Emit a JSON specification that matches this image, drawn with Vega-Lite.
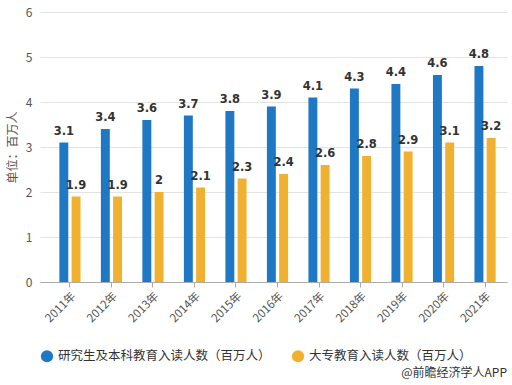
{
  "$schema": "https://vega.github.io/schema/vega-lite/v6.json",
  "autosize": {"type": "none"},
  "width": 467,
  "height": 270,
  "padding": {"left": 40, "top": 12, "right": 5, "bottom": 103},
  "background": "white",
  "config": {
    "font": "Noto Sans CJK SC",
    "view": {"stroke": null}
  },
  "title": {
    "text": "@前瞻经济学人APP",
    "orient": "bottom",
    "anchor": "end",
    "fontSize": 12,
    "fontWeight": "normal",
    "color": "#333333",
    "offset": 5
  },
  "data": {
    "values": [
      {"year": "2011年", "series": "研究生及本科教育入读人数（百万人）", "value": 3.1},
      {"year": "2012年", "series": "研究生及本科教育入读人数（百万人）", "value": 3.4},
      {"year": "2013年", "series": "研究生及本科教育入读人数（百万人）", "value": 3.6},
      {"year": "2014年", "series": "研究生及本科教育入读人数（百万人）", "value": 3.7},
      {"year": "2015年", "series": "研究生及本科教育入读人数（百万人）", "value": 3.8},
      {"year": "2016年", "series": "研究生及本科教育入读人数（百万人）", "value": 3.9},
      {"year": "2017年", "series": "研究生及本科教育入读人数（百万人）", "value": 4.1},
      {"year": "2018年", "series": "研究生及本科教育入读人数（百万人）", "value": 4.3},
      {"year": "2019年", "series": "研究生及本科教育入读人数（百万人）", "value": 4.4},
      {"year": "2020年", "series": "研究生及本科教育入读人数（百万人）", "value": 4.6},
      {"year": "2021年", "series": "研究生及本科教育入读人数（百万人）", "value": 4.8},
      {"year": "2011年", "series": "大专教育入读人数（百万人）", "value": 1.9},
      {"year": "2012年", "series": "大专教育入读人数（百万人）", "value": 1.9},
      {"year": "2013年", "series": "大专教育入读人数（百万人）", "value": 2},
      {"year": "2014年", "series": "大专教育入读人数（百万人）", "value": 2.1},
      {"year": "2015年", "series": "大专教育入读人数（百万人）", "value": 2.3},
      {"year": "2016年", "series": "大专教育入读人数（百万人）", "value": 2.4},
      {"year": "2017年", "series": "大专教育入读人数（百万人）", "value": 2.6},
      {"year": "2018年", "series": "大专教育入读人数（百万人）", "value": 2.8},
      {"year": "2019年", "series": "大专教育入读人数（百万人）", "value": 2.9},
      {"year": "2020年", "series": "大专教育入读人数（百万人）", "value": 3.1},
      {"year": "2021年", "series": "大专教育入读人数（百万人）", "value": 3.2}
    ]
  },
  "encoding": {
    "x": {
      "field": "year",
      "type": "nominal",
      "sort": null,
      "scale": {"paddingInner": 0.49, "paddingOuter": 0.37, "align": 0.63},
      "axis": {
        "title": null,
        "labelAngle": -45,
        "labelFontSize": 11.5,
        "labelColor": "#555555",
        "domainColor": "#aaaaaa",
        "tickColor": "#aaaaaa",
        "tickSize": 5,
        "labelPadding": 3
      }
    },
    "xOffset": {
      "field": "series",
      "type": "nominal",
      "sort": null,
      "scale": {"paddingInner": 0.27}
    },
    "y": {
      "field": "value",
      "type": "quantitative",
      "scale": {"domain": [0, 6], "nice": false},
      "axis": {
        "title": "单位：百万人",
        "titleFontSize": 12,
        "titleFontWeight": "normal",
        "titleColor": "#555555",
        "titlePadding": 6,
        "values": [0, 1, 2, 3, 4, 5, 6],
        "labelFontSize": 12,
        "labelColor": "#555555",
        "labelPadding": 8,
        "domain": false,
        "ticks": false,
        "gridColor": "#e3e3e3"
      }
    }
  },
  "layer": [
    {
      "mark": {"type": "bar"},
      "encoding": {
        "color": {
          "field": "series",
          "type": "nominal",
          "sort": null,
          "scale": {"range": ["#1f78c4", "#f0b030"]},
          "legend": {
            "title": null,
            "orient": "bottom",
            "direction": "horizontal",
            "symbolType": "circle",
            "symbolSize": 150,
            "labelFontSize": 12.5,
            "labelColor": "#333333",
            "labelLimit": 0,
            "columnPadding": 20,
            "offset": 24
          }
        }
      }
    },
    {
      "mark": {"type": "text", "dy": -11, "fontWeight": "bold", "fontSize": 11.5, "font": "DejaVu Sans", "color": "#333333"},
      "encoding": {
        "text": {"field": "value", "type": "quantitative"}
      }
    }
  ]
}
